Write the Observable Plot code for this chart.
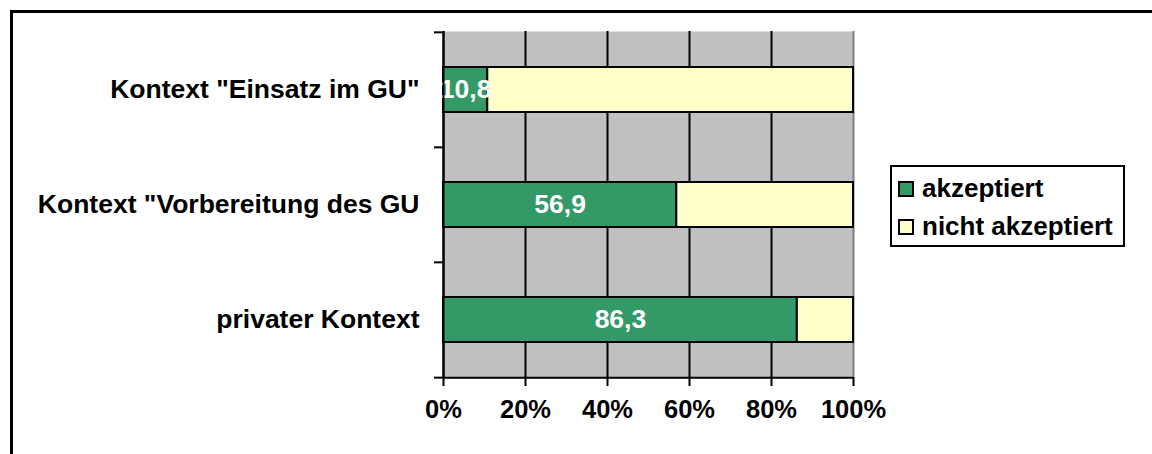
<!DOCTYPE html>
<html>
<head>
<meta charset="utf-8">
<script src="https://cdn.jsdelivr.net/npm/d3@7"></script>
<script src="https://cdn.jsdelivr.net/npm/@observablehq/plot@0.6"></script>
<style>
  html, body { margin: 0; padding: 0; background: white; width: 1152px; height: 454px; overflow: hidden; }
  #chart { position: absolute; left: 0; top: 0; }
  #frame { position: absolute; left: 10px; top: 10px; width: 1200px; height: 500px;
           border-top: 3px solid black; border-left: 3px solid black; pointer-events: none; }
  #legend { position: absolute; left: 890px; top: 165px; width: 231px; height: 78px;
            border: 2px solid black; background: white; box-sizing: content-box;
            font-family: "Liberation Sans", Arial, sans-serif; font-weight: bold; font-size: 26px; color: black; }
  .item { position: absolute; left: 6px; display: flex; align-items: center; white-space: nowrap; }
  .sw { width: 12px; height: 12px; border: 2px solid black; margin-right: 8px; }
</style>
</head>
<body>
<div id="chart"></div>
<div id="legend"></div>
<div id="frame"></div>
<script>
const categories = ['Kontext "Einsatz im GU"', 'Kontext "Vorbereitung des GU', 'privater Kontext'];
const series = ["akzeptiert", "nicht akzeptiert"];
const accepted = [10.8, 56.9, 86.3];
const notAccepted = [89.2, 43.1, 13.7];
const valueLabels = ["10,8", "56,9", "86,3"];
const xTicks = [0, 20, 40, 60, 80, 100];
const colors = ["#339966", "#FFFFCC"];

const data = [];
categories.forEach((c, i) => {
  data.push({category: c, series: series[0], value: accepted[i], label: valueLabels[i]});
  data.push({category: c, series: series[1], value: notAccepted[i], label: ""});
});
const acc = data.filter(d => d.series === series[0]);

const W = 1152, H = 454, mT = 31, mB = 77, mL = 443, mR = 299;
const step = (H - mT - mB) / categories.length;
const font = {fontFamily: '"Liberation Sans", Arial, sans-serif', fontWeight: "bold"};

const chart = Plot.plot({
  width: W, height: H,
  marginTop: mT, marginBottom: mB, marginLeft: mL, marginRight: mR,
  style: {background: "transparent", color: "black", fontFamily: font.fontFamily},
  x: {domain: [0, 100], label: null},
  y: {domain: categories, paddingInner: 0.61, paddingOuter: 0.305, label: null},
  color: {domain: series, range: colors},
  marks: [
    Plot.frame({fill: "#C0C0C0", stroke: null}),
    Plot.ruleX(xTicks.slice(0, -1), {stroke: "black", strokeWidth: 2}),
    Plot.ruleX([100], {stroke: "#808080", strokeWidth: 2}),
    Plot.barX(data, Plot.stackX({x: "value", y: "category", fill: "series", stroke: "black", strokeWidth: 2, order: series})),
    Plot.text(acc, {x: d => d.value / 2, y: "category", text: "label", fill: "white", ...font, fontSize: 26.5}),
    Plot.axisX({ticks: xTicks, tickFormat: d => d + "%", tickSize: 9, tickPadding: 13, strokeWidth: 2, label: null, ...font, fontSize: 25.5}),
    Plot.axisY({tickSize: 0, tickPadding: 24, label: null, ...font, fontSize: 26.5}),
    Plot.ruleX([0], {stroke: "black", strokeWidth: 2}),
    Plot.ruleY(categories, {y: d => d, x1: 0, x2: 0, insetLeft: -9, dy: -step / 2, stroke: "black", strokeWidth: 2}),
    Plot.ruleY(categories.slice(-1), {y: d => d, x1: 0, x2: 0, insetLeft: -9, dy: step / 2, stroke: "black", strokeWidth: 2}),
    Plot.ruleY(categories.slice(-1), {y: d => d, x1: 0, x2: 100, dy: step / 2, stroke: "black", strokeWidth: 2})
  ]
});
document.getElementById("chart").appendChild(chart);

const legend = document.getElementById("legend");
series.forEach((s, i) => {
  const it = document.createElement("div");
  it.className = "item";
  it.style.top = (i === 0 ? 6 : 44) + "px";
  it.innerHTML = `<span class="sw" style="background:${colors[i]}"></span><span>${s}</span>`;
  legend.appendChild(it);
});
</script>
</body>
</html>
